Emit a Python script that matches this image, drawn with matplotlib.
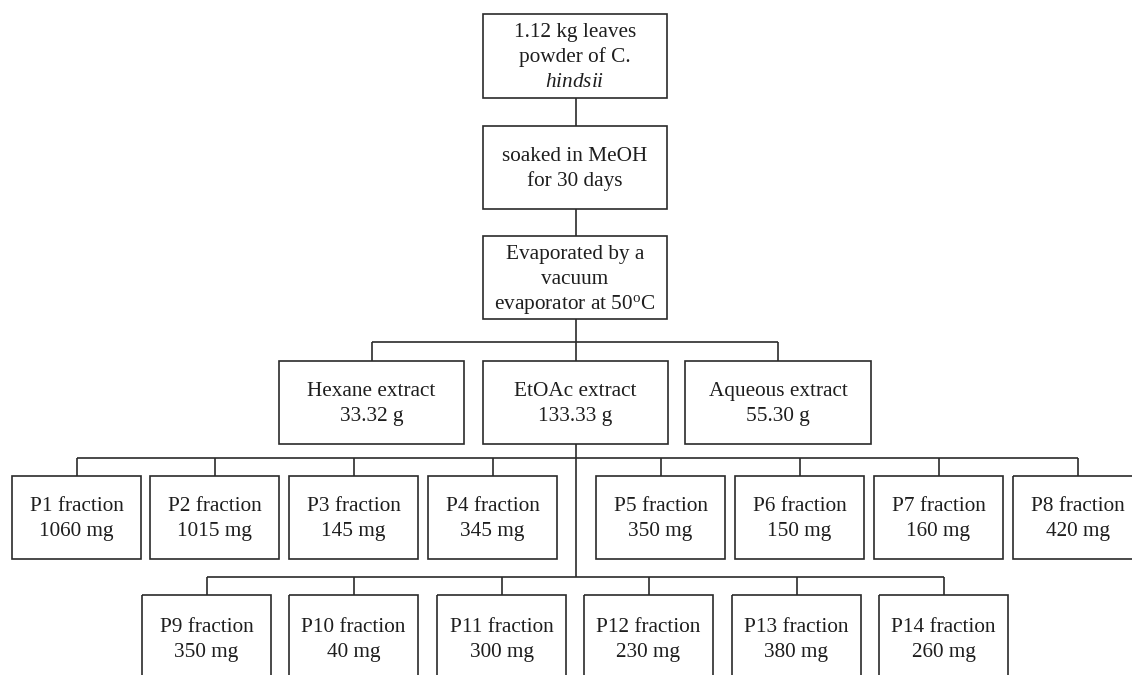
import matplotlib
matplotlib.use("Agg")
import matplotlib.pyplot as plt
from matplotlib.patches import Rectangle

plt.rcParams['font.family'] = ['Liberation Serif', 'DejaVu Serif']
plt.rcParams['mathtext.fontset'] = 'custom'
plt.rcParams['mathtext.rm'] = 'Liberation Serif'
plt.rcParams['mathtext.it'] = 'Liberation Serif:italic'

# ---- data ----
step_labels = [
    ["1.12 kg leaves", "powder of C.", "$\\it{hindsii}$"],
    ["soaked in MeOH", "for 30 days"],
    ["Evaporated by a", "vacuum", "evaporator at 50$^{\\mathrm{o}}$C"],
]
extract_names = ["Hexane extract", "EtOAc extract", "Aqueous extract"]
extract_mass = ["33.32 g", "133.33 g", "55.30 g"]
frac_row1 = ["P1", "P2", "P3", "P4", "P5", "P6", "P7", "P8"]
frac_row1_mg = [1060, 1015, 145, 345, 350, 150, 160, 420]
frac_row2 = ["P9", "P10", "P11", "P12", "P13", "P14"]
frac_row2_mg = [350, 40, 300, 230, 380, 260]

# ---- layout ----
W, H = 1132, 675
fig = plt.figure(figsize=(W / 100, H / 100), dpi=100)
ax = fig.add_axes([0, 0, 1, 1])
ax.set_xlim(0, W)
ax.set_ylim(H, 0)
ax.axis('off')

EC = '#2b2b2b'
TC = '#1e1e1e'
LW = 1.2
FS = 15.3
LINE_H = 25


def box(x0, x1, y0, y1, lines, dy=1.5):
    ax.add_patch(Rectangle((x0, y0), x1 - x0, y1 - y0, fill=False,
                           edgecolor=EC, linewidth=LW))
    cx = (x0 + x1) / 2
    cy = (y0 + y1) / 2 + dy
    n = len(lines)
    for i, t in enumerate(lines):
        y = cy + (i - (n - 1) / 2) * LINE_H
        ax.text(cx, y, t, ha='center', va='center', fontsize=FS, color=TC)


def line(xs, ys):
    ax.plot(xs, ys, color=EC, linewidth=LW, solid_capstyle='butt')


# top process boxes
cx_main = 575
top_y = [(14, 98), (126, 209), (236, 319)]
for (y0, y1), lab in zip(top_y, step_labels):
    box(483, 667, y0, y1, lab)
for i in range(len(top_y) - 1):
    line([cx_main + 1, cx_main + 1], [top_y[i][1], top_y[i + 1][0]])

# extracts
ext_y = (361, 444)
ext_x = [(279, 464), (483, 668), (685, 871)]
hline1 = 342
line([cx_main + 1, cx_main + 1], [top_y[-1][1], hline1])
ext_cx = [(a + b) / 2 for a, b in ext_x]
line([ext_cx[0], ext_cx[-1]], [hline1, hline1])
for (a, b), name, m in zip(ext_x, extract_names, extract_mass):
    c = (a + b) / 2
    line([c, c], [hline1, ext_y[0]])
    box(a, b, ext_y[0], ext_y[1], [name, m])

# row 1 fractions
r1_y = (476, 559)
r1_w = 129
r1_x0 = [12, 150, 289, 428, 596, 735, 874, 1013]
hline2 = 458
hline3 = 577
etoac_cx = ext_cx[1]
line([etoac_cx, etoac_cx], [ext_y[1], hline3])
r1_cx = [x + r1_w / 2 for x in r1_x0]
line([r1_cx[0], r1_cx[-1]], [hline2, hline2])
for x0, nm, mg in zip(r1_x0, frac_row1, frac_row1_mg):
    c = x0 + r1_w / 2
    line([c, c], [hline2, r1_y[0]])
    box(x0, x0 + r1_w, r1_y[0], r1_y[1], [f"{nm} fraction", f"{mg} mg"])

# row 2 fractions
r2_y = (595, 678)
r2_w = 129
r2_x0 = [142, 289, 437, 584, 732, 879]
r2_cx = [x + r2_w / 2 for x in r2_x0]
line([r2_cx[0], r2_cx[-1]], [hline3, hline3])
for x0, nm, mg in zip(r2_x0, frac_row2, frac_row2_mg):
    c = x0 + r2_w / 2
    line([c, c], [hline3, r2_y[0]])
    box(x0, x0 + r2_w, r2_y[0], r2_y[1], [f"{nm} fraction", f"{mg} mg"], dy=3)

fig.savefig("out.png", dpi=100, facecolor='white')
